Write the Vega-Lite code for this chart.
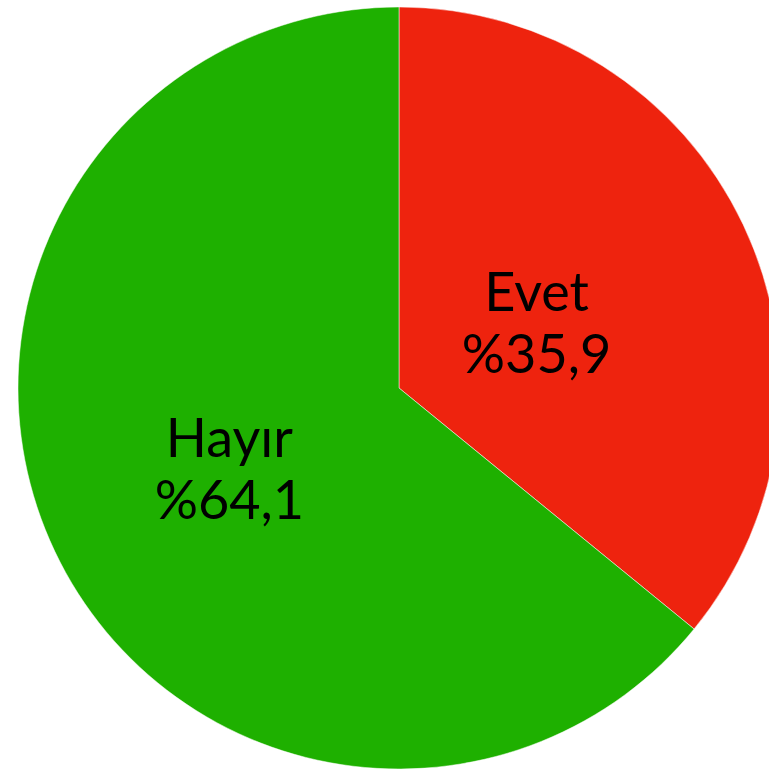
{
  "$schema": "https://vega.github.io/schema/vega-lite/v6.json",
  "autosize": {"type": "fit", "contains": "padding"},
  "width": 769,
  "height": 770,
  "padding": {"left": 29, "right": 0, "top": 6, "bottom": 0},
  "background": "white",
  "view": {"stroke": null},
  "data": {
    "values": [
      {"cevap": "Evet", "yuzde": 35.9},
      {"cevap": "Hayır", "yuzde": 64.1}
    ]
  },
  "transform": [
    {"calculate": "[datum.cevap, '%' + replace(format(datum.yuzde, '.1f'), '.', ',')]", "as": "etiket"}
  ],
  "encoding": {
    "theta": {"field": "yuzde", "type": "quantitative", "stack": true},
    "order": {"field": "cevap", "sort": "ascending"}
  },
  "layer": [
    {
      "mark": {"type": "arc", "outerRadius": 381, "stroke": "white", "strokeWidth": 0.5},
      "encoding": {
        "color": {
          "field": "cevap",
          "type": "nominal",
          "scale": {"domain": ["Evet", "Hayır"], "range": ["#EE230E", "#1EB000"]},
          "legend": null
        }
      }
    },
    {
      "mark": {"type": "text", "radius": 170, "dx": -16, "dy": -20, "font": "Lato", "fontSize": 54, "lineHeight": 62, "align": "center", "baseline": "middle", "color": "black"},
      "encoding": {
        "text": {"field": "etiket"}
      }
    }
  ]
}
